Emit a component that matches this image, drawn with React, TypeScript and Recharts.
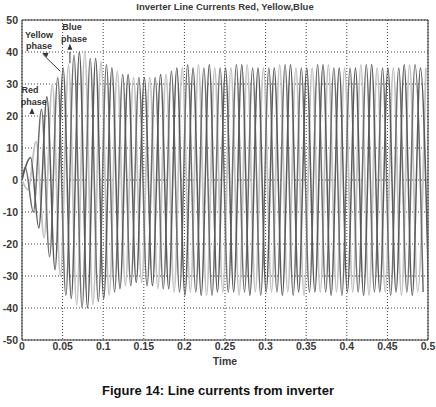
import React from 'react';
import { LineChart, Line, XAxis, YAxis, CartesianGrid, ReferenceArea, ReferenceLine, ReferenceDot } from 'recharts';

// peak current of each half cycle (A), alternating sign
const redPeaks = [4, -10, 22, -24, 32, -36, 39, -40, 38, -38, 36, -35, 33, -33, 32, -33, 32, -34, 34, -35, 36, -35, 35, -36, 35, -35, 36, -35, 35, -36, 35, -35, 36, -36, 35, -35, 36, -35, 35, -36, 35, -35, 36, -35, 35, -36, 35, -35, 36, -35];
const yellowPeaks = [-3, 12, -18, 30, -30, 36, -39, 40, -39, 37, -36, 34, -33, 32, -32, 32, -34, 33, -35, 35, -35, 36, -36, 35, -35, 35, -36, 36, -35, 35, -35, 36, -35, 35, -36, 35, -35, 36, -35, 35, -35, 36, -36, 35, -35, 35, -36, 36, -35, 35];
const bluePeaks = [7, -15, 26, -28, 35, -37, 40, -40, 38, -37, 35, -34, 33, -32, 32, -33, 33, -34, 35, -36, 35, -36, 36, -35, 35, -35, 36, -36, 35, -35, 35, -36, 36, -35, 35, -35, 36, -36, 35, -35, 35, -36, 36, -35, 35, -35, 36, -36, 35, -35];

// time of first peak for each phase, and the half period (50 Hz)
const redStart = 0.004;
const yellowStart = 0.00733;
const blueStart = 0.01067;
const halfPeriod = 0.01;

const timeTicks = [0, 0.05, 0.1, 0.15, 0.2, 0.25, 0.3, 0.35, 0.4, 0.45, 0.5];
const currentTicks = [-50, -40, -30, -20, -10, 0, 10, 20, 30, 40, 50];

const toSeries = (peaks: number[], start: number) => [
  { t: 0, i: 0 },
  ...peaks.map((v, j) => ({ t: start + j * halfPeriod, i: v })),
];

const redData = toSeries(redPeaks, redStart);
const yellowData = toSeries(yellowPeaks, yellowStart);
const blueData = toSeries(bluePeaks, blueStart);

const arrowHead = (angle: number) => (props: any) => {
  const { cx, cy } = props;
  return (
    <polygon
      points={`${cx},${cy} ${cx - 2.5},${cy + 6} ${cx + 2.5},${cy + 6}`}
      fill="#333"
      transform={`rotate(${angle} ${cx} ${cy})`}
    />
  );
};

const font = 'Liberation Sans, Arial, sans-serif';
const noteStyle = { fontSize: 9, fontWeight: 'bold' as const, fill: '#333', fontFamily: font };
const tickStyle = { fontSize: 10.5, fontWeight: 'bold' as const, fill: '#3a3a3a', fontFamily: font };

const App: React.FC = () => {
  return (
    <div style={{ position: 'absolute', left: 0, top: 0, width: 436, height: 407, background: '#fff', fontFamily: font }}>
      <div style={{ position: 'absolute', left: 22, top: 1, width: 406, textAlign: 'center', fontSize: 9.5, fontWeight: 'bold', color: '#3a3a3a' }}>
        Inverter Line Currents Red, Yellow,Blue
      </div>
      <LineChart width={436} height={370} margin={{ top: 20, right: 8, bottom: 0, left: 0 }} style={{ position: 'absolute', left: 0, top: 0 }}>
        <CartesianGrid stroke="#444" strokeDasharray="1 2" />
        <XAxis
          type="number"
          dataKey="t"
          domain={[0, 0.5]}
          ticks={timeTicks}
          allowDataOverflow
          tickLine={false}
          tickSize={0}
          axisLine={false}
          tick={tickStyle}
          tickMargin={3}
          height={30}
          tickFormatter={(v: number) => String(v)}
          label={{ value: 'Time', position: 'insideBottom', offset: 5, style: tickStyle }}
        />
        <YAxis
          type="number"
          dataKey="i"
          domain={[-50, 50]}
          ticks={currentTicks}
          allowDataOverflow
          tickLine={false}
          tickSize={0}
          axisLine={false}
          tick={tickStyle}
          tickMargin={4}
          width={22}
        />
        <Line data={yellowData} dataKey="i" type="monotone" stroke="#c2c2c2" strokeWidth={1.8} dot={false} isAnimationActive={false} />
        <Line data={redData} dataKey="i" type="monotone" stroke="#6e6e6e" strokeWidth={1.5} dot={false} isAnimationActive={false} />
        <Line data={blueData} dataKey="i" type="monotone" stroke="#5a5a5a" strokeWidth={1.5} dot={false} isAnimationActive={false} />
        <ReferenceArea x1={0} x2={0.5} y1={-50} y2={50} fill="none" stroke="#333" strokeWidth={1} />
        <ReferenceDot x={0.021} y={45.3} r={1} fill="none" stroke="none" label={{ value: 'Yellow', position: 'center', style: noteStyle }} />
        <ReferenceDot x={0.021} y={41.9} r={1} fill="none" stroke="none" label={{ value: 'phase', position: 'center', style: noteStyle }} />
        <ReferenceLine segment={[{ x: 0.047, y: 34 }, { x: 0.026, y: 39.2 }]} stroke="#333" strokeWidth={1} />
        <ReferenceDot x={0.0247} y={39.7} r={1} shape={arrowHead(-70)} />
        <ReferenceDot x={0.0617} y={47.8} r={1} fill="none" stroke="none" label={{ value: 'Blue', position: 'center', style: noteStyle }} />
        <ReferenceDot x={0.064} y={44.1} r={1} fill="none" stroke="none" label={{ value: 'phase', position: 'center', style: noteStyle }} />
        <ReferenceLine segment={[{ x: 0.059, y: 40 }, { x: 0.059, y: 36.5 }]} stroke="#333" strokeWidth={1} />
        <ReferenceDot x={0.059} y={42.6} r={1} shape={arrowHead(0)} />
        <ReferenceDot x={0.01} y={28.1} r={1} fill="none" stroke="none" label={{ value: 'Red', position: 'center', style: noteStyle }} />
        <ReferenceDot x={0.0145} y={24.4} r={1} fill="none" stroke="none" label={{ value: 'phase', position: 'center', style: noteStyle }} />
        <ReferenceDot x={0.0123} y={22.5} r={1} shape={arrowHead(0)} />
      </LineChart>
      <div style={{ position: 'absolute', left: 0, top: 383, width: 436, textAlign: 'center', fontSize: 13, fontWeight: 'bold', color: '#111' }}>
        Figure 14: Line currents from inverter
      </div>
    </div>
  );
};

export default App;
